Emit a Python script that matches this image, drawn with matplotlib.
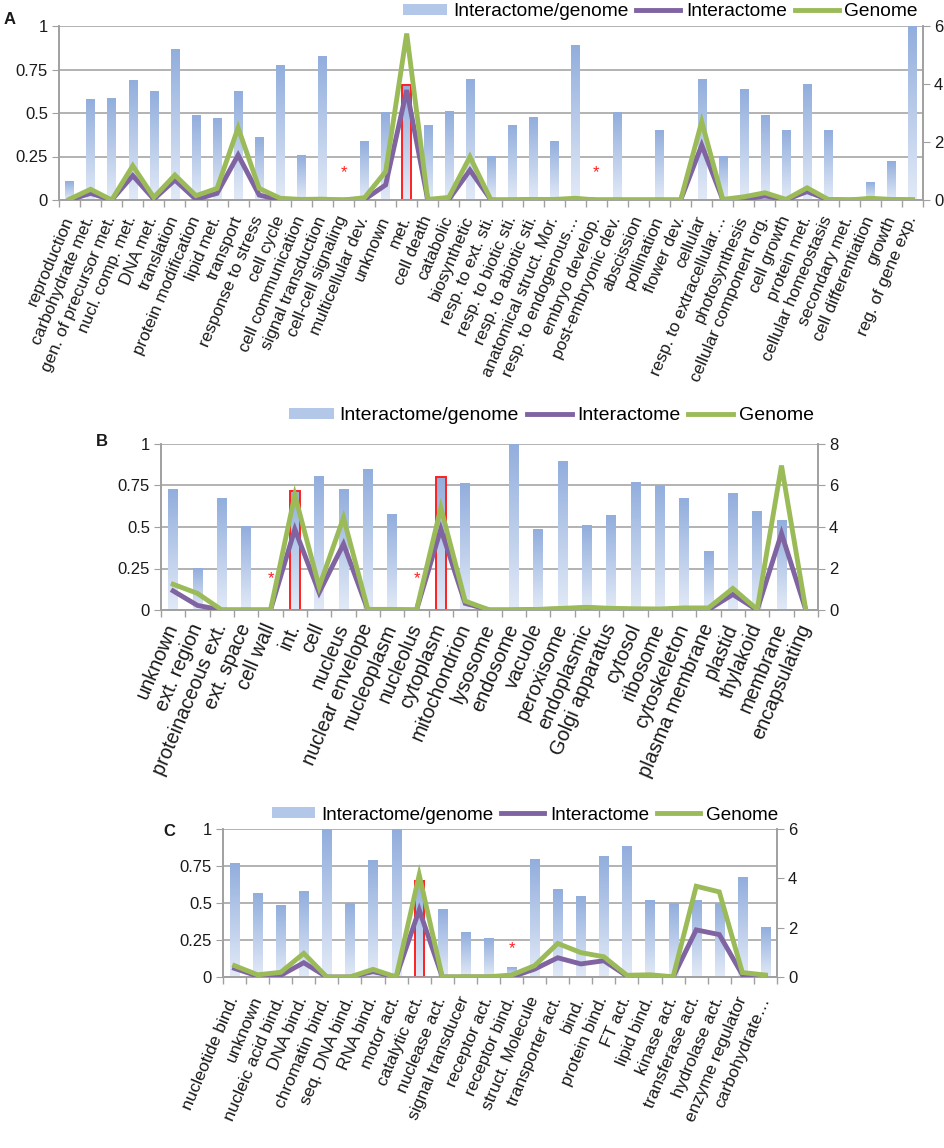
import numpy as np
import matplotlib
matplotlib.use('Agg')
import matplotlib.pyplot as plt
from matplotlib.colors import LinearSegmentedColormap
from matplotlib.patches import Patch
from matplotlib.lines import Line2D

plt.rcParams['font.family'] = ['Liberation Sans', 'DejaVu Sans']

# ---------------- Panel A: biological process ----------------
a_labels = ['reproduction', 'carbohydrate met.', 'gen. of precursor met.', 'nucl. comp. met.',
            'DNA met.', 'translation', 'protein modification', 'lipid met.', 'transport',
            'response to stress', 'cell cycle', 'cell communication', 'signal transduction',
            'cell-cell signaling', 'multicellular dev.', 'unknown', 'met.', 'cell death',
            'catabolic', 'biosynthetic', 'resp. to ext. sti.', 'resp. to biotic sti.',
            'resp. to abiotic sti.', 'anatomical struct. Mor.', 'resp. to endogenous\u2026',
            'embryo develop.', 'post-embryonic dev.', 'abscission', 'pollination', 'flower dev.',
            'cellular', 'resp. to extracellular\u2026', 'photosynthesis', 'cellular component org.',
            'cell growth', 'protein met.', 'cellular homeostasis', 'secondary met.',
            'cell differentiation', 'growth', 'reg. of gene exp.']
a_ratio = [0.105, 0.577, 0.581, 0.688, 0.625, 0.864, 0.488, 0.470, 0.623, 0.361,
           0.771, 0.254, 0.824, 0.0, 0.335, 0.503, 0.663, 0.430, 0.51, 0.692,
           0.252, 0.428, 0.472, 0.335, 0.889, 0.0, 0.501, 0.0, 0.40, 0.0,
           0.692, 0.252, 0.635, 0.488, 0.40, 0.662, 0.40, 0.0, 0.098, 0.224, 1.0]
a_interactome = [0.0, 0.23, 0.0, 0.84, 0.03, 0.69, 0.02, 0.23, 1.55, 0.17,
                 0.0, 0.0, 0.0, 0.0, 0.02, 0.52, 3.79, 0.0, 0.02, 1.03,
                 0.0, 0.0, 0.01, 0.01, 0.03, 0.0, 0.0, 0.0, 0.0, 0.0,
                 1.89, 0.01, 0.03, 0.14, 0.01, 0.29, 0.01, 0.0, 0.01, 0.01, 0.0]
a_genome = [0.03, 0.37, 0.0, 1.18, 0.09, 0.86, 0.15, 0.40, 2.49, 0.40,
            0.06, 0.02, 0.03, 0.0, 0.08, 0.98, 5.74, 0.02, 0.09, 1.49,
            0.0, 0.0, 0.02, 0.02, 0.06, 0.0, 0.0, 0.0, 0.0, 0.0,
            2.70, 0.02, 0.11, 0.25, 0.02, 0.42, 0.02, 0.0, 0.06, 0.02, 0.0]
a_highlight = ['met.']
a_stars = ['cell-cell signaling', 'embryo develop.']

# ---------------- Panel B: cellular component ----------------
b_labels = ['unknown', 'ext. region', 'proteinaceous ext.', 'ext. space', 'cell wall', 'int.',
            'cell', 'nucleus', 'nuclear envelope', 'nucleoplasm', 'nucleolus', 'cytoplasm',
            'mitochondrion', 'lysosome', 'endosome', 'vacuole', 'peroxisome', 'endoplasmic',
            'Golgi apparatus', 'cytosol', 'ribosome', 'cytoskeleton', 'plasma membrane',
            'plastid', 'thylakoid', 'membrane', 'encapsulating']
b_ratio = [0.723, 0.251, 0.671, 0.502, 0.0, 0.717, 0.807, 0.727, 0.849, 0.578,
           0.0, 0.80, 0.761, 0.0, 1.0, 0.486, 0.894, 0.512, 0.572, 0.767,
           0.753, 0.671, 0.353, 0.701, 0.592, 0.538, 0.0]
b_interactome = [0.92, 0.22, 0.0, 0.0, 0.0, 3.89, 0.84, 3.18, 0.0, 0.0,
                 0.0, 3.90, 0.32, 0.0, 0.0, 0.02, 0.05, 0.10, 0.05, 0.02,
                 0.02, 0.05, 0.02, 0.75, 0.0, 3.69, 0.0]
b_genome = [1.24, 0.80, 0.0, 0.0, 0.0, 5.54, 1.12, 4.45, 0.03, 0.03,
            0.0, 4.93, 0.43, 0.0, 0.0, 0.03, 0.08, 0.13, 0.08, 0.06,
            0.05, 0.10, 0.10, 1.04, 0.03, 6.96, 0.0]
b_highlight = ['int.', 'cytoplasm']
b_stars = ['cell wall', 'nucleolus']

# ---------------- Panel C: molecular function ----------------
c_labels = ['nucleotide bind.', 'unknown', 'nucleic acid bind.', 'DNA bind.', 'chromatin bind.',
            'seq. DNA bind.', 'RNA bind.', 'motor act.', 'catalytic act.', 'nuclease act.',
            'signal transducer', 'receptor act.', 'receptor bind.', 'struct. Molecule',
            'transporter act.', 'bind.', 'protein bind.', 'FT act.', 'lipid bind.', 'kinase act.',
            'transferase act.', 'hydrolase act.', 'enzyme regulator', 'carbohydrate\u2026']
c_ratio = [0.764, 0.565, 0.486, 0.581, 1.0, 0.5, 0.786, 1.0, 0.65, 0.459,
           0.304, 0.263, 0.065, 0.795, 0.588, 0.545, 0.811, 0.883, 0.516, 0.50,
           0.518, 0.498, 0.669, 0.336]
c_interactome = [0.35, 0.04, 0.07, 0.58, 0.0, 0.0, 0.22, 0.0, 2.72, 0.0,
                 0.0, 0.0, 0.0, 0.32, 0.78, 0.53, 0.66, 0.04, 0.03, 0.0,
                 1.91, 1.72, 0.09, 0.01]
c_genome = [0.46, 0.09, 0.19, 0.96, 0.0, 0.0, 0.31, 0.0, 4.14, 0.0,
            0.01, 0.01, 0.08, 0.46, 1.36, 0.99, 0.82, 0.07, 0.09, 0.01,
            3.68, 3.45, 0.18, 0.08]
c_highlight = ['catalytic act.']
c_stars = ['receptor bind.']

legend_labels = ['Interactome/genome', 'Interactome', 'Genome']

# ---------------- styling ----------------
W, H = 945, 1148
PURPLE = '#8064A2'
GREEN = '#9BBB59'
GRID = '#A6A6A6'
SPINE = '#A0A0A0'
TXT = '#1a1a1a'
bar_cmap = LinearSegmentedColormap.from_list('bars', ['#E2EAF7', '#92AEDD'])
grad = np.linspace(1, 0, 128).reshape(-1, 1)

fig = plt.figure(figsize=(W / 100, H / 100), dpi=100)


def px_rect(l, t, r, b):
    return [l / W, 1 - b / H, (r - l) / W, (b - t) / H]


def panel(rect, labels, ratio, inter, genome, rmax, rstep, highlight, stars, star_y,
          xfs, xpad, letter, letter_xy, leg_xy, leg_fs):
    ax = fig.add_axes(px_rect(*rect))
    n = len(labels)
    x = np.arange(n)
    bw = 0.4
    bars = ax.bar(x, ratio, width=bw, color='none', edgecolor='none', zorder=2)
    for xi, b in zip(x, bars):
        h = b.get_height()
        if h > 0:
            ax.imshow(grad, extent=(xi - bw / 2, xi + bw / 2, 0, h), aspect='auto',
                      cmap=bar_cmap, vmin=0, vmax=1, zorder=2, interpolation='bilinear')
    for i, lab in enumerate(labels):
        if lab in highlight:
            ax.bar(x[i], ratio[i], width=bw, fill=False, edgecolor='#FF2020', lw=1.4, zorder=3)
        if lab in stars:
            ax.text(x[i], star_y, '*', color='#FF2020', ha='center', va='center',
                    fontsize=12, zorder=4)
    ax.set_xlim(-0.5, n - 0.5)
    ax.set_ylim(0, 1)
    ax.set_yticks([0, 0.25, 0.5, 0.75, 1])
    ax.set_yticklabels(['0', '0.25', '0.5', '0.75', '1'])
    ax.yaxis.grid(True, color=GRID, lw=1.2)
    ax.set_axisbelow(True)
    ax.tick_params(axis='y', length=5, color=SPINE, labelsize=12, labelcolor=TXT, pad=3)
    ax.set_xticks(x)
    ax.set_xticklabels(labels, rotation=67, ha='right', va='center', rotation_mode='anchor',
                       fontsize=xfs, color=TXT)
    ax.tick_params(axis='x', which='major', length=0, pad=xpad)
    ax.set_xticks(np.arange(-0.5, n, 1), minor=True)
    ax.tick_params(axis='x', which='minor', length=5, color=SPINE, width=1)
    ax.spines['top'].set_visible(False)
    for s in ['left', 'right', 'bottom']:
        ax.spines[s].set_color(SPINE)
        ax.spines[s].set_linewidth(1.2)

    ax2 = ax.twinx()
    ax2.plot(x, inter, color=PURPLE, lw=3.5, solid_joinstyle='miter', zorder=3)
    ax2.plot(x, genome, color=GREEN, lw=3.5, solid_joinstyle='miter', zorder=4)
    ax2.set_ylim(0, rmax)
    ticks = np.arange(0, rmax + 0.01, rstep)
    ax2.set_yticks(ticks)
    ax2.set_yticklabels([str(int(v)) for v in ticks])
    ax2.tick_params(axis='y', length=5, color=SPINE, labelsize=12, labelcolor=TXT, pad=3)
    ax2.spines['top'].set_visible(False)
    for s in ['left', 'right', 'bottom']:
        ax2.spines[s].set_color(SPINE)
        ax2.spines[s].set_linewidth(1.2)
    ax2.set_xlim(-0.5, n - 0.5)

    handles = [Patch(facecolor='#B3C7E8', edgecolor='none'),
               Line2D([], [], color=PURPLE, lw=3.5),
               Line2D([], [], color=GREEN, lw=3.5)]
    fig.legend(handles, legend_labels, loc='center right',
               bbox_to_anchor=(leg_xy[0] / W, 1 - leg_xy[1] / H), ncol=3, frameon=False,
               fontsize=leg_fs, handlelength=2.3, handleheight=0.5, handletextpad=0.3,
               columnspacing=0.4, borderpad=0, borderaxespad=0)
    fig.text(letter_xy[0] / W, 1 - letter_xy[1] / H, letter, fontweight='bold', fontsize=12,
             ha='left', va='center', color=TXT)
    return ax


panel((59, 26, 923, 200), a_labels, a_ratio, a_interactome, a_genome, 6, 2,
      a_highlight, a_stars, 0.155, 12.3, 12.0, 'A', (4, 20), (918, 12), 13.8)
panel((161, 444, 818, 610), b_labels, b_ratio, b_interactome, b_genome, 8, 2,
      b_highlight, b_stars, 0.19, 14.3, 10.5, 'B', (96, 441), (814, 416), 14.0)
panel((223, 829, 777, 977), c_labels, c_ratio, c_interactome, c_genome, 6, 2,
      c_highlight, c_stars, 0.19, 12.5, 14.5, 'C', (163, 832), (778, 815), 13.6)

fig.savefig('out.png', dpi=100)
